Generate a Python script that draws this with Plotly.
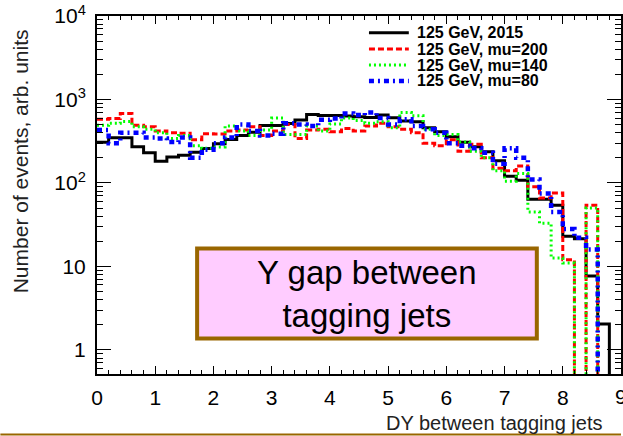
import plotly.graph_objects as go
import numpy as np

# ---- data (45 bins of width 0.2 from 0 to 9) ----
bin_edges = [round(0.2 * i, 1) for i in range(46)]

h2015 = [308, 348, 348, 271, 230, 182, 204, 215, 234, 259,
         295, 332, 371, 406, 489, 489, 517, 566, 662, 644,
         644, 632, 621, 610, 650, 603, 551, 541, 459, 410,
         358, 308, 271, 236, 184, 120, 108, 64, 64, 54,
         23, 21.5, 7.7, 2.05, 0]

mu200 = [580, 590, 680, 490, 470, 420, 400, 395, 330, 390,
         385, 420, 430, 470, 370, 420, 500, 340, 430, 440,
         410, 450, 420, 480, 520, 470, 440, 400, 300, 280,
         330, 240, 290, 200, 150, 140, 160, 90, 66, 76,
         12, 0, 54, 0, 0]

mu140 = [490, 520, 545, 470, 440, 400, 340, 370, 280, 260,
         270, 480, 420, 370, 430, 600, 380, 380, 480, 420,
         510, 600, 560, 520, 540, 460, 700, 640, 440, 370,
         380, 310, 240, 200, 140, 105, 130, 45, 33, 12.6,
         11, 0, 50, 0, 0]

mu80 = [430, 300, 400, 400, 350, 340, 310, 350, 200, 250,
        300, 350, 500, 420, 370, 390, 520, 500, 480, 570,
        590, 680, 650, 700, 600, 500, 580, 480, 440, 400,
        300, 280, 260, 230, 170, 260, 200, 110, 75, 45,
        28, 22, 16, 0, 0]

labels = ["125 GeV, 2015", "125 GeV, mu=200", "125 GeV, mu=140", "125 GeV, mu=80"]
colors = ["black", "#ff0000", "#00ff00", "#0000ff"]
dashes = ["solid", "6px,3px", "2px,3px", "5px,4px,2px,4px"]
widths = [3, 3, 3, 4.5]
series = [h2015, mu200, mu140, mu80]

y_tick_vals = [1, 10, 100, 1000, 10000]
y_tick_text = ["1", "10", "10<sup>2</sup>", "10<sup>3</sup>", "10<sup>4</sup>"]
x_tick_vals = list(range(10))

FONT = "Liberation Sans, Arial, Helvetica, sans-serif"

W, H = 623, 436
L, R, T, B = 97, 0, 16, 62
pw, ph = W - L - R, H - T - B


def px2paper_x(px):
    return (px - L) / pw


def px2paper_y(py):
    return (H - B - py) / ph


fig = go.Figure()
for vals, lab, col, dsh, wd in zip(series, labels, colors, dashes, widths):
    yv = [v if v > 0 else 0.01 for v in vals]
    yv = yv + [yv[-1]]
    fig.add_trace(go.Scatter(x=bin_edges, y=yv, mode="lines", name=lab,
                             line=dict(shape="hv", color=col, dash=dsh, width=wd),
                             showlegend=False))

shapes = []
annotations = []

# manual legend
leg_rows = [32.7, 49.0, 65.0, 81.0]
for i, (lab, col, dsh, wd) in enumerate(zip(labels, colors, dashes, widths)):
    yy = px2paper_y(leg_rows[i])
    shapes.append(dict(type="line", xref="paper", yref="paper",
                       x0=px2paper_x(370), x1=px2paper_x(410), y0=yy, y1=yy,
                       line=dict(color=col, dash=dsh, width=wd)))
    annotations.append(dict(text="<b>" + lab + "</b>", xref="paper", yref="paper",
                            x=px2paper_x(416), y=yy, xanchor="left", yanchor="middle",
                            showarrow=False, font=dict(family=FONT, size=16, color="black")))

# text box
shapes.append(dict(type="rect", xref="paper", yref="paper", layer="above",
                   x0=px2paper_x(197.5), x1=px2paper_x(538.5),
                   y0=px2paper_y(338.5), y1=px2paper_y(248.5),
                   fillcolor="#ffccff", line=dict(color="#996600", width=4)))
annotations.append(dict(text="Y gap between<br>tagging jets", xref="paper", yref="paper",
                        x=px2paper_x(368), y=px2paper_y(294), xanchor="center", yanchor="middle",
                        showarrow=False, font=dict(family=FONT, size=33, color="black")))

# axis titles
annotations.append(dict(text="DY between tagging jets", xref="paper", yref="paper",
                        x=px2paper_x(606), y=px2paper_y(423), xanchor="right", yanchor="middle",
                        showarrow=False, font=dict(family=FONT, size=20, color="#222222")))
annotations.append(dict(text="Number of events, arb. units", xref="paper", yref="paper",
                        x=px2paper_x(20), y=px2paper_y(161), xanchor="center", yanchor="middle",
                        textangle=-90, showarrow=False,
                        font=dict(family=FONT, size=21, color="#222222")))
# last x tick label (cut by the picture edge, as in the original)
annotations.append(dict(text="9", xref="x", yref="paper", x=9, y=-0.025,
                        xanchor="center", yanchor="top", showarrow=False,
                        font=dict(family=FONT, size=21, color="black")))

# bottom slide rule
shapes.append(dict(type="line", xref="paper", yref="paper",
                   x0=px2paper_x(0), x1=px2paper_x(623), y0=px2paper_y(434.5), y1=px2paper_y(434.5),
                   line=dict(color="#996600", width=2)))

fig.update_layout(
    width=W, height=H,
    margin=dict(l=L, r=R, t=T, b=B),
    paper_bgcolor="white", plot_bgcolor="white",
    shapes=shapes, annotations=annotations,
    showlegend=False,
    font=dict(family=FONT, color="black"),
)
fig.update_xaxes(range=[0, 9], tickvals=x_tick_vals, ticks="inside", ticklen=8, tickwidth=1,
                 tickcolor="black", showline=True, linecolor="black", linewidth=2, mirror="ticks",
                 showgrid=False, zeroline=False, tickfont=dict(family=FONT, size=21, color="black"),
                 ticklabelstandoff=4,
                 minor=dict(ticks="inside", ticklen=4, dtick=0.2, tickcolor="black", showgrid=False))
fig.update_yaxes(type="log", range=[np.log10(0.515), 4], tickvals=y_tick_vals, ticktext=y_tick_text,
                 ticks="inside", ticklen=14, tickwidth=1, tickcolor="black",
                 showline=True, linecolor="black", linewidth=2, mirror="ticks",
                 showgrid=False, zeroline=False, tickfont=dict(family=FONT, size=21, color="black"),
                 ticklabelstandoff=5,
                 minor=dict(ticks="inside", ticklen=6, dtick="D1", tickcolor="black", showgrid=False))

fig.write_html("out.html")
